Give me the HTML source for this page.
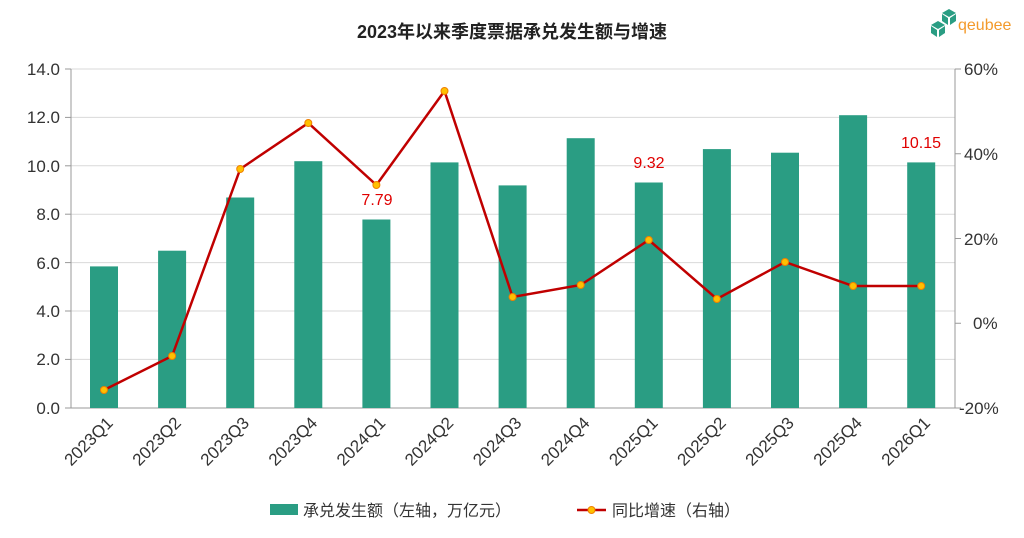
<!DOCTYPE html><html><head><meta charset="utf-8"><style>body{margin:0;background:#fff}svg{display:block;font-family:"Liberation Sans","Noto Sans CJK SC",sans-serif}</style></head><body>
<svg width="1024" height="538" viewBox="0 0 1024 538">
<text x="512" y="38" text-anchor="middle" font-size="18" font-weight="bold" fill="#222">2023年以来季度票据承兑发生额与增速</text>
<g fill="#2a9d83"><polygon points="942,13 949,9 956,13 949,17"/><polygon points="942,14 948,18 948,25 942,21"/><polygon points="950,18 956,14 956,21 950,25"/><polygon points="931,25 938,21 945,25 938,29"/><polygon points="931,26 937,30 937,37 931,33"/><polygon points="939,30 945,26 945,33 939,37"/></g>
<text x="958" y="30" font-size="16" fill="#f39a2b">qeubee</text>
<g stroke="#d9d9d9" stroke-width="1">
<line x1="71" y1="69" x2="955" y2="69"/><line x1="71" y1="117.4" x2="955" y2="117.4"/><line x1="71" y1="165.8" x2="955" y2="165.8"/><line x1="71" y1="214.2" x2="955" y2="214.2"/><line x1="71" y1="262.6" x2="955" y2="262.6"/><line x1="71" y1="311" x2="955" y2="311"/><line x1="71" y1="359.4" x2="955" y2="359.4"/></g>
<g stroke="#999" stroke-width="1"><line x1="71" y1="69" x2="71" y2="408"/><line x1="955" y1="69" x2="955" y2="408"/><line x1="71" y1="408" x2="955" y2="408"/>
<line x1="65" y1="69" x2="71" y2="69"/><line x1="65" y1="117.4" x2="71" y2="117.4"/><line x1="65" y1="165.8" x2="71" y2="165.8"/><line x1="65" y1="214.2" x2="71" y2="214.2"/><line x1="65" y1="262.6" x2="71" y2="262.6"/><line x1="65" y1="311" x2="71" y2="311"/><line x1="65" y1="359.4" x2="71" y2="359.4"/><line x1="65" y1="408" x2="71" y2="408"/>
<line x1="955" y1="69" x2="961" y2="69"/><line x1="955" y1="153.75" x2="961" y2="153.75"/><line x1="955" y1="238.5" x2="961" y2="238.5"/><line x1="955" y1="323.25" x2="961" y2="323.25"/><line x1="955" y1="408" x2="961" y2="408"/></g>
<g font-size="17" fill="#333" text-anchor="end">
<text x="60" y="75">14.0</text><text x="60" y="123">12.0</text><text x="60" y="172">10.0</text><text x="60" y="220">8.0</text><text x="60" y="269">6.0</text><text x="60" y="317">4.0</text><text x="60" y="365">2.0</text><text x="60" y="414">0.0</text></g>
<g font-size="17" fill="#333">
<text x="964" y="75">60%</text><text x="964" y="160">40%</text><text x="964" y="245">20%</text><text x="973" y="329">0%</text><text x="959" y="414">-20%</text></g>
<g fill="#2a9d83">
<rect x="90" y="266.4" width="28" height="141.6"/><rect x="158.1" y="250.7" width="28" height="157.3"/><rect x="226.2" y="197.5" width="28" height="210.5"/><rect x="294.3" y="161.2" width="28" height="246.8"/><rect x="362.4" y="219.5" width="28" height="188.5"/><rect x="430.5" y="162.4" width="28" height="245.6"/><rect x="498.6" y="185.4" width="28" height="222.6"/><rect x="566.7" y="138.2" width="28" height="269.8"/><rect x="634.8" y="182.5" width="28" height="225.5"/><rect x="702.9" y="149.1" width="28" height="258.9"/><rect x="771" y="152.7" width="28" height="255.3"/><rect x="839.1" y="115.2" width="28" height="292.8"/><rect x="907.2" y="162.4" width="28" height="245.6"/></g>
<polyline fill="none" stroke="#c00000" stroke-width="2.5" points="104,390 172.1,356 240.2,169 308.3,123 376.4,185 444.5,91 512.6,297 580.7,285 648.8,240 716.9,299 785,262 853.1,286 921.2,286"/>
<g fill="#ffc000" stroke="#f08000" stroke-width="1"><circle cx="104" cy="390" r="3.5"/><circle cx="172.1" cy="356" r="3.5"/><circle cx="240.2" cy="169" r="3.5"/><circle cx="308.3" cy="123" r="3.5"/><circle cx="376.4" cy="185" r="3.5"/><circle cx="444.5" cy="91" r="3.5"/><circle cx="512.6" cy="297" r="3.5"/><circle cx="580.7" cy="285" r="3.5"/><circle cx="648.8" cy="240" r="3.5"/><circle cx="716.9" cy="299" r="3.5"/><circle cx="785" cy="262" r="3.5"/><circle cx="853.1" cy="286" r="3.5"/><circle cx="921.2" cy="286" r="3.5"/></g>
<g font-size="16" fill="#e00000" text-anchor="middle"><text x="377" y="205">7.79</text><text x="649" y="168">9.32</text><text x="921" y="148">10.15</text></g>
<g font-size="17" fill="#333" text-anchor="end">
<text transform="translate(114,424) rotate(-45)">2023Q1</text><text transform="translate(182.1,424) rotate(-45)">2023Q2</text><text transform="translate(250.2,424) rotate(-45)">2023Q3</text><text transform="translate(318.3,424) rotate(-45)">2023Q4</text><text transform="translate(386.4,424) rotate(-45)">2024Q1</text><text transform="translate(454.5,424) rotate(-45)">2024Q2</text><text transform="translate(522.6,424) rotate(-45)">2024Q3</text><text transform="translate(590.7,424) rotate(-45)">2024Q4</text><text transform="translate(658.8,424) rotate(-45)">2025Q1</text><text transform="translate(726.9,424) rotate(-45)">2025Q2</text><text transform="translate(795,424) rotate(-45)">2025Q3</text><text transform="translate(863.1,424) rotate(-45)">2025Q4</text><text transform="translate(931.2,424) rotate(-45)">2026Q1</text></g>
<rect x="270" y="504" width="28" height="11" fill="#2a9d83"/>
<text x="303" y="516" font-size="16" fill="#333">承兑发生额（左轴，万亿元）</text>
<line x1="577" y1="510" x2="606" y2="510" stroke="#c00000" stroke-width="2.5"/><circle cx="591.5" cy="510" r="3.5" fill="#ffc000" stroke="#f08000"/>
<text x="612" y="516" font-size="16" fill="#333">同比增速（右轴）</text>
</svg></body></html>
